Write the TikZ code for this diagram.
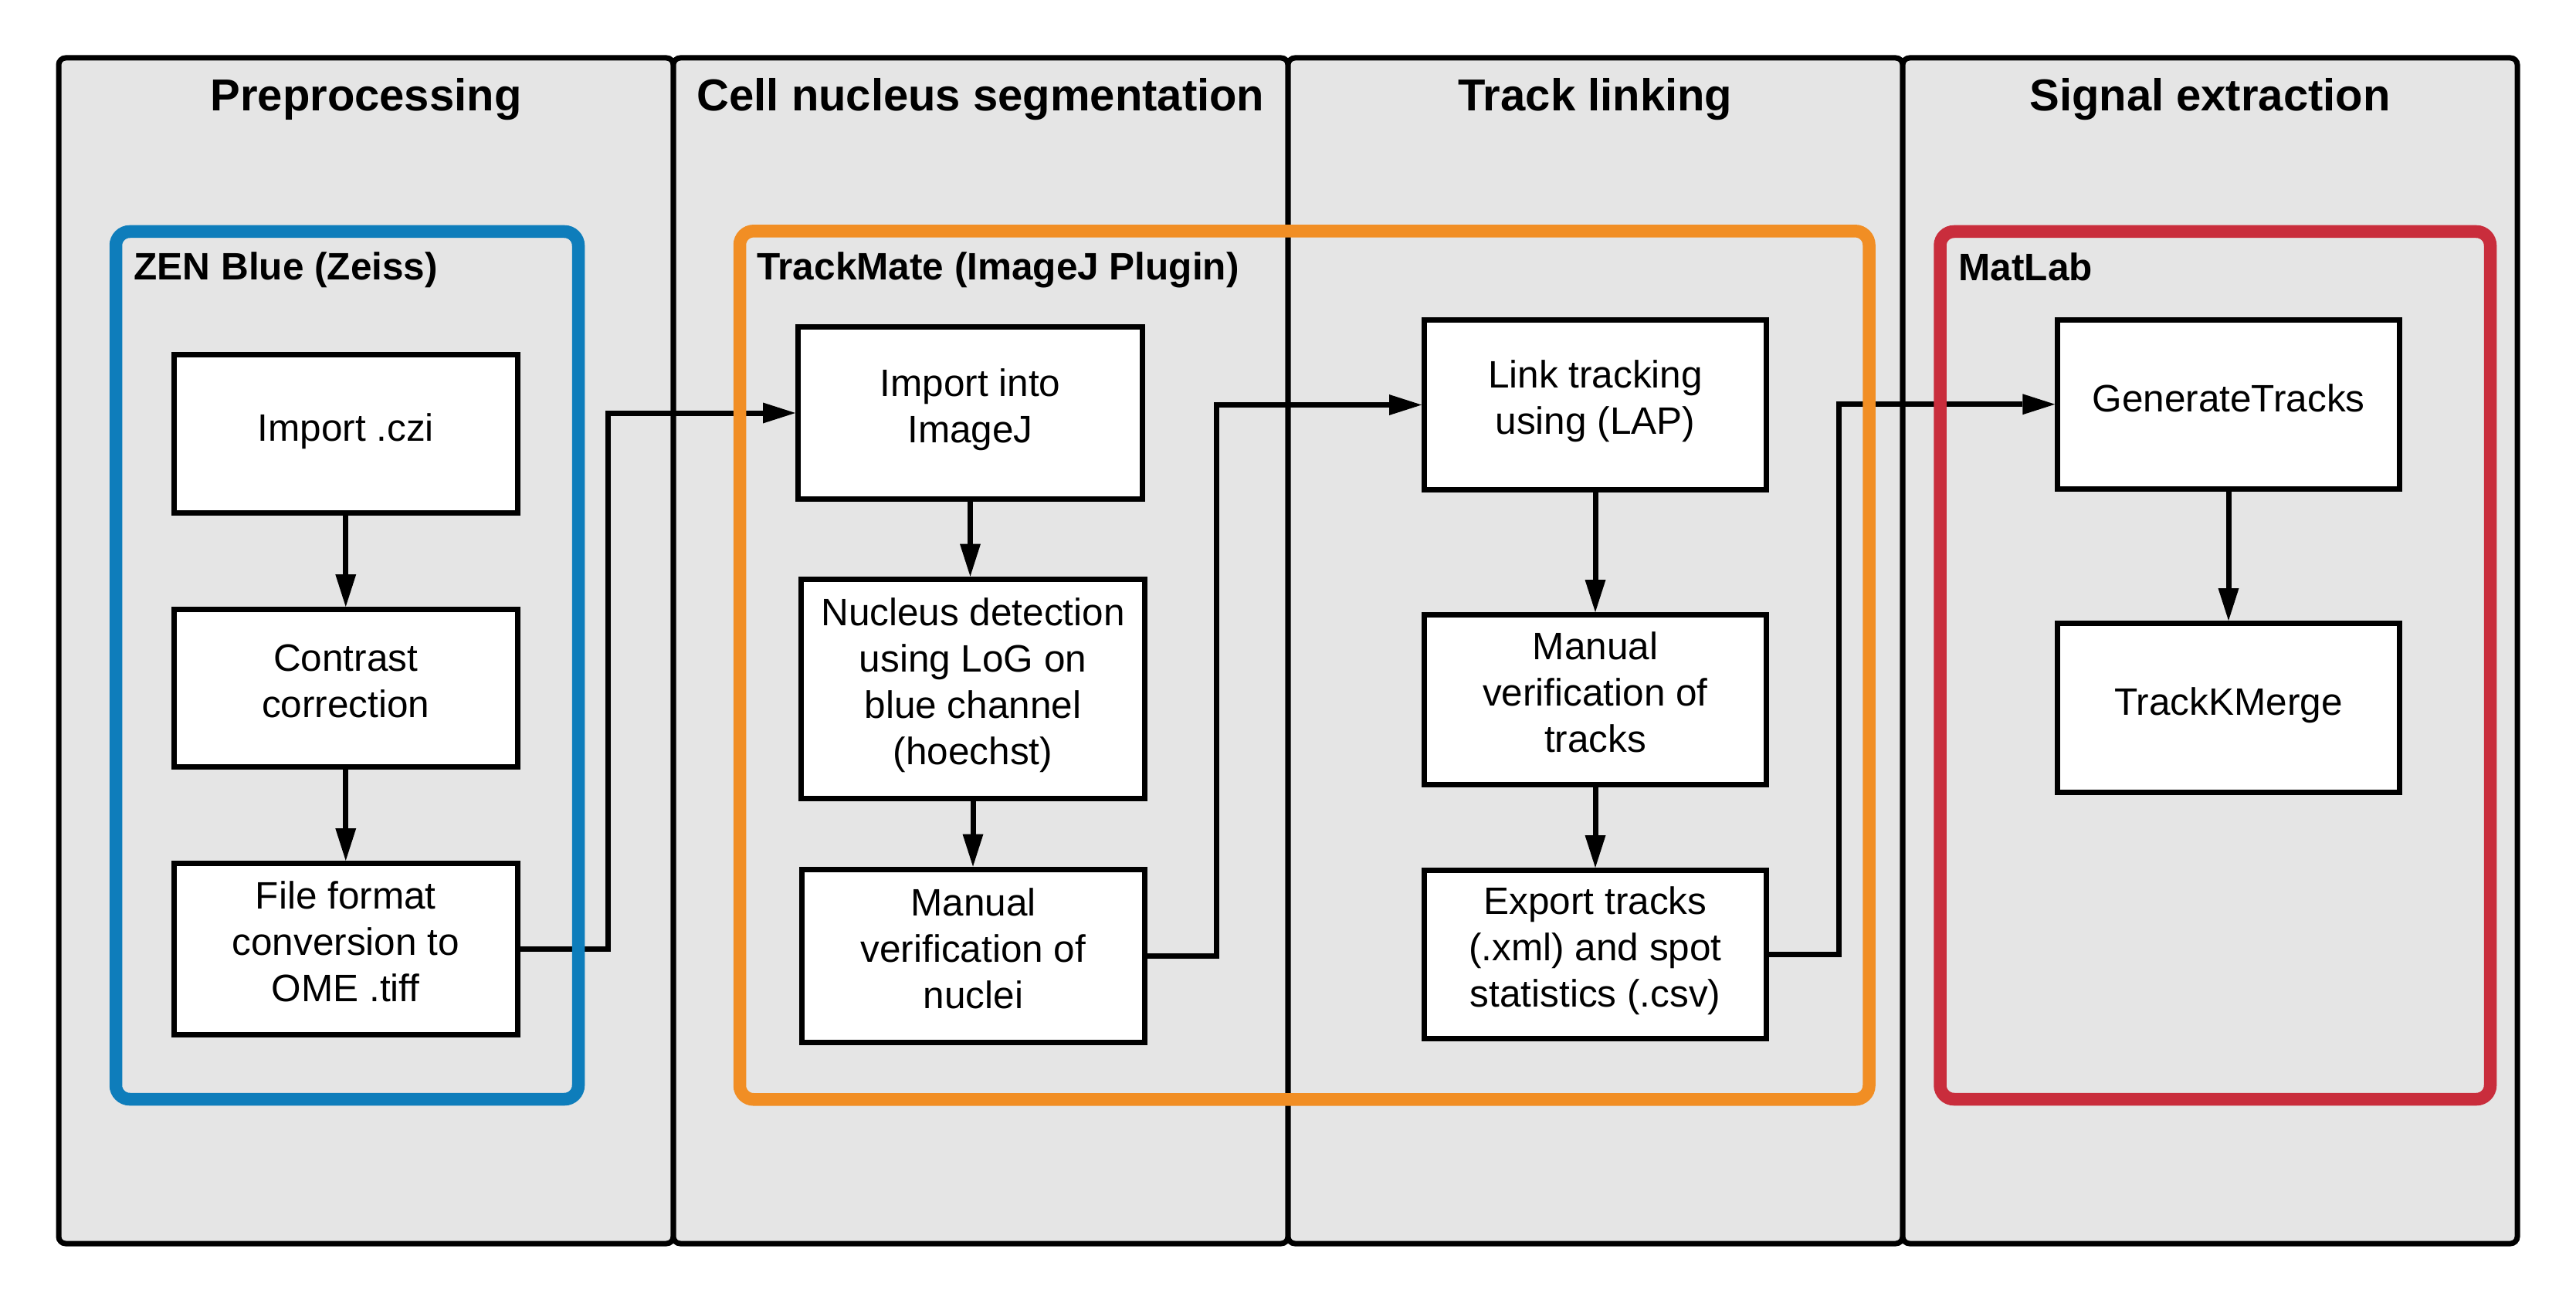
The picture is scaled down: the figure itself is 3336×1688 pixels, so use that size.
\documentclass[tikz,border=0pt]{standalone}
\usepackage{fontspec}
\setmainfont{Liberation Sans}
\usetikzlibrary{arrows.meta}
\definecolor{panelgray}{HTML}{E5E5E5}
\definecolor{zenblue}{HTML}{0E7DBB}
\definecolor{tmorange}{HTML}{F18E24}
\definecolor{mlred}{HTML}{C92D3C}
\newcommand{\boxstrut}{\rule[-19pt]{0pt}{57pt}}
\begin{document}
\begin{tikzpicture}[x=1pt,y=-1pt,
  panel/.style={draw=black, fill=panelgray, line width=7pt, rounded corners=9pt},
  group/.style={line width=16.5pt, rounded corners=18pt},
  stepbox/.style={draw=black, fill=white, line width=7pt, inner sep=0pt, align=center,
    font=\fontsize{49.5}{60}\selectfont,
    execute at begin node=\boxstrut, execute at end node=\boxstrut},
  paneltitle/.style={font=\bfseries\fontsize{58}{70}\selectfont, anchor=base, inner sep=0pt},
  grouplabel/.style={font=\bfseries\fontsize{49.5}{60}\selectfont, anchor=base west, inner sep=0pt},
  conn/.style={line width=7pt},
  arr/.style={conn, -{Triangle[length=42pt,width=27pt,line width=0pt]}},
]
\useasboundingbox (0,0) rectangle (3336,1688);
\fill[white] (0,0) rectangle (3336,1688);

% panels
\draw[panel] (76,75) rectangle (872,1611);
\draw[panel] (872,75) rectangle (1668,1611);
\draw[panel] (1668,75) rectangle (2464,1611);
\draw[panel] (2464,75) rectangle (3260,1611);

\node[paneltitle] (t1) at (474,144) {Preprocessing};
\node[paneltitle] (t2) at (1270,144) {Cell nucleus segmentation};
\node[paneltitle] (t3) at (2066,144) {Track linking};
\node[paneltitle] (t4) at (2862,144) {Signal extraction};

% step boxes
\node[stepbox, minimum width=444.5pt, minimum height=204.5pt] (czi) at (447.75,561.75) {Import .czi};
\node[stepbox, minimum width=444.5pt, minimum height=204pt] (cc) at (447.75,891.5) {Contrast\\correction};
\node[stepbox, minimum width=444.5pt, minimum height=221.6pt] (ff) at (447.75,1229.3) {File format\\conversion to\\OME .tiff};

\node[stepbox, minimum width=446pt, minimum height=223pt] (ij) at (1256.5,535) {Import into\\ImageJ};
\node[stepbox, minimum width=445pt, minimum height=284.4pt] (nd) at (1260,892.3) {Nucleus detection\\using LoG on\\blue channel\\(hoechst)};
\node[stepbox, minimum width=444pt, minimum height=224pt] (mn) at (1260.5,1238) {Manual\\verification of\\nuclei};

\node[stepbox, minimum width=443pt, minimum height=220pt] (lt) at (2066,524.5) {Link tracking\\using (LAP)};
\node[stepbox, minimum width=443pt, minimum height=220pt] (mt) at (2066,906.5) {Manual\\verification of\\tracks};
\node[stepbox, minimum width=443pt, minimum height=218pt] (ex) at (2066,1236.5) {Export tracks\\(.xml) and spot\\statistics (.csv)};

\node[stepbox, minimum width=442.5pt, minimum height=219.5pt] (gt) at (2886,523.75) {GenerateTracks};
\node[stepbox, minimum width=442.5pt, minimum height=219pt] (tk) at (2886,917) {TrackKMerge};

% connectors between tools (under the group frames)
\coordinate (k1) at (787,0);
\coordinate (k2) at (1575,0);
\coordinate (k3) at (2381.5,0);
\draw[arr] (ff.east) -- (ff.east -| k1) |- (ij.west);
\draw[arr] (mn.east) -- (mn.east -| k2) |- (lt.west);
\draw[arr] (ex.east) -- (ex.east -| k3) |- (gt.west);

% group frames
\draw[group, draw=zenblue] (150,300) rectangle (749,1424);
\draw[group, draw=tmorange] (958,299.3) rectangle (2420.5,1424.3);
\draw[group, draw=mlred] (2512.5,300) rectangle (3225,1424);

\node[grouplabel] (l1) at (173.5,362) {ZEN Blue (Zeiss)};
\node[grouplabel] (l2) at (980,362) {TrackMate (ImageJ Plugin)};
\node[grouplabel] (l3) at (2536.5,363) {MatLab};

% vertical arrows
\draw[arr] (czi.south) -- (cc.north);
\draw[arr] (cc.south) -- (ff.north);
\draw[arr] (ij.south) -- (ij.south |- nd.north);
\draw[arr] (nd.south) -- (nd.south |- mn.north);
\draw[arr] (lt.south) -- (mt.north);
\draw[arr] (mt.south) -- (ex.north);
\draw[arr] (gt.south) -- (tk.north);
\end{tikzpicture}
\end{document}
